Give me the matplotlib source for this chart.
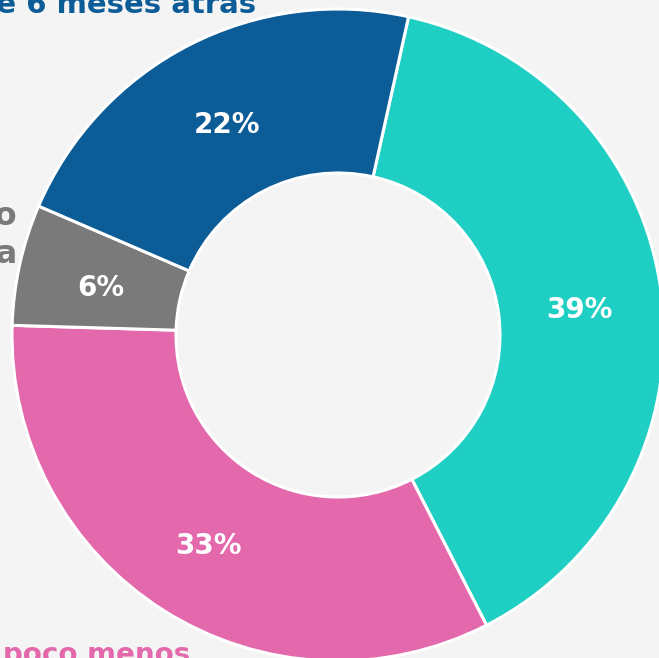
import matplotlib.pyplot as plt

# share of answers, clockwise from the top
labels = ['Más', 'Un poco menos', 'Igual', 'Hace 6 meses']
values = [39, 33, 6, 22]
colors = ['#20CFC4', '#E368AC', '#7A7A7A', '#0B5C97']

W, H = 659, 658
cx, cy = 338, 335      # donut centre, px from top-left
R = 326                # outer radius, px

fig = plt.figure(figsize=(W / 100, H / 100), dpi=100)
fig.patch.set_facecolor('#F4F4F4')
ax = fig.add_axes([0, 0, 1, 1])
ax.set_facecolor('#F4F4F4')

wedges, texts, autotexts = ax.pie(
    values, colors=colors, startangle=77.5, counterclock=False,
    autopct='%.0f%%', pctdistance=0.745,
    wedgeprops=dict(width=0.503, edgecolor='white', linewidth=2.2),
    textprops=dict(color='white', fontsize=20, fontweight='bold'))

# nudge the percentages a little lower, as in the original
for t in autotexts:
    x, y = t.get_position()
    t.set_position((x, y - 0.018))

ax.set_xlim(-cx / R, (W - cx) / R)
ax.set_ylim(-(H - cy) / R, cy / R)
ax.set_aspect('equal', adjustable='box')
ax.axis('off')

# outside labels, mostly cut off by the figure edge
def px(x, y):
    return (x - cx) / R, (cy - y) / R

ax.text(*px(256, 13), 'Mucho más que hace 6 meses atrás', ha='right', va='baseline',
        color='#0B5C97', fontsize=21, fontweight='bold')
ax.text(*px(17, 225), 'Sigue igual que hace tiempo', ha='right', va='baseline',
        color='#7A7A7A', fontsize=23, fontweight='bold')
ax.text(*px(17, 263), 'en la misma empresa', ha='right', va='baseline',
        color='#7A7A7A', fontsize=23, fontweight='bold')
ax.text(*px(190, 663), 'Un poco menos', ha='right', va='baseline',
        color='#E368AC', fontsize=20, fontweight='bold')

fig.savefig('out.png', dpi=100, facecolor=fig.get_facecolor())
